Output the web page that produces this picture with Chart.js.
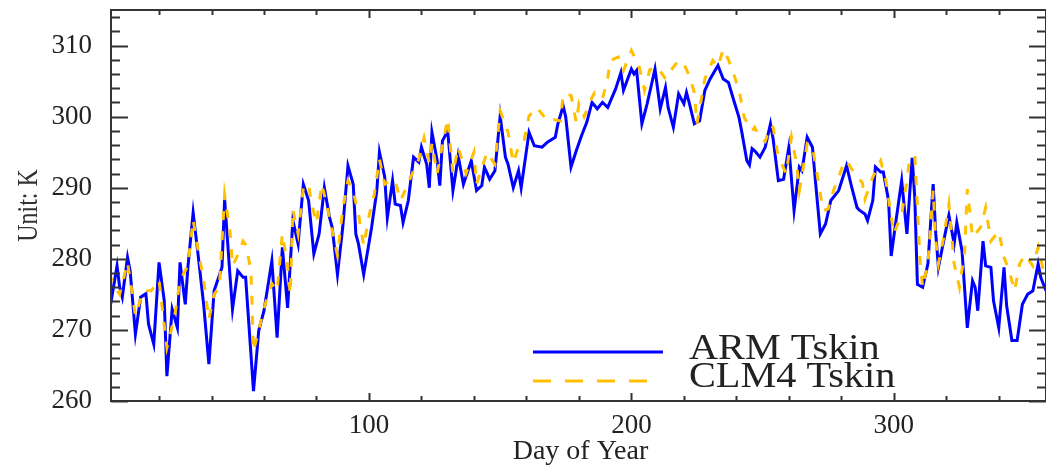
<!DOCTYPE html>
<html>
<head>
<meta charset="utf-8">
<script src="https://cdn.jsdelivr.net/npm/chart.js@4/dist/chart.umd.min.js"></script>
<style>
  html, body { margin: 0; padding: 0; background: #ffffff; }
  #wrap { width: 1046px; height: 466px; }
</style>
</head>
<body>
<div id="wrap"><canvas id="c" width="1046" height="466"></canvas></div>
<script>
// Daily skin temperature (K), observed (ARM) and simulated (CLM4)
const armDays = [1,4,5,6,8,9,11,13,15,16,18,20,22,23,25,27,28,30,31,33,35,37,39,41,44,45,47,48,50,52,53,56,58,60,63,65,67,69,71,73,75,77,79,81,83,85,86,88,90,92,94,95,96,98,101,103,104,106,107,109,110,112,113,115,117,119,120,122,123,124,126,127,128,130,132,133,134,136,139,141,143,144,146,148,150,152,153,155,157,158,161,163,166,168,171,172,174,175,177,179,181,183,185,187,189,191,194,196,197,200,201,202,204,206,209,211,213,214,216,218,220,221,222,224,226,228,230,233,235,237,239,241,242,244,245,246,247,249,251,253,254,256,258,260,262,264,265,267,269,270,272,274,276,279,282,284,286,287,289,290,292,293,295,296,298,299,301,303,305,307,308,309,311,313,315,316,317,319,321,323,324,326,328,330,331,332,334,335,337,338,340,342,343,345,347,349,351,353,355,356,358];
const armTskin = [272.4,279.0,276.0,274.6,280.2,278.3,269.4,274.6,275.1,270.8,268.0,279.5,274.1,263.5,272.9,270.3,279.5,273.6,278.8,286.5,280.2,273.6,265.2,275.5,278.8,288.4,277.8,272.9,278.3,277.4,277.4,261.4,269.9,272.7,279.7,268.9,281.6,273.1,285.4,282.1,290.5,288.2,280.7,283.5,290.0,285.8,284.4,277.8,284.4,293.1,290.5,283.5,282.1,277.8,284.4,289.6,295.0,291.5,285.8,291.0,287.7,287.5,285.1,288.2,294.3,293.6,295.7,293.3,290.0,297.8,293.8,290.3,296.6,298.0,289.6,291.9,294.5,290.5,293.8,289.6,290.3,292.9,291.2,292.4,300.1,294.3,293.3,290.0,292.4,290.0,297.8,295.9,295.7,296.4,297.1,299.0,301.5,299.9,292.9,295.2,297.3,299.2,302.0,301.1,302.0,301.3,303.9,306.2,303.7,306.7,306.0,306.5,299.0,301.8,306.7,301.1,304.1,301.3,298.5,303.2,301.8,303.4,302.0,299.0,299.4,303.7,305.3,307.2,305.3,304.8,302.3,299.9,298.0,293.8,293.2,295.5,295.2,294.3,295.7,299.0,296.9,291.0,291.2,295.7,286.8,292.9,292.4,297.1,295.7,291.5,283.5,284.9,288.2,289.6,293.1,290.0,287.2,286.8,286.3,285.4,288.2,292.9,292.2,292.2,288.2,280.4,285.8,291.0,283.5,294.2,288.6,276.4,276.0,279.3,290.5,283.5,278.8,282.5,286.1,282.1,285.1,281.1,270.3,276.9,276.0,272.7,282.5,279.0,278.8,274.1,270.3,278.8,273.4,268.5,268.5,273.6,275.0,275.5,279.3,277.4,275.5];

const clmDays = [1,3,5,8,11,14,17,20,23,26,28,31,33,35,37,39,41,43,45,47,48,50,52,53,55,56,58,60,62,63,65,67,69,70,71,73,75,77,78,80,82,84,86,88,90,92,94,96,98,100,102,104,106,108,110,112,114,117,119,121,123,124,126,128,130,132,134,137,140,141,145,148,150,153,155,157,159,161,164,168,170,173,174,177,179,180,182,185,186,189,191,192,195,197,200,203,205,207,210,213,215,218,220,222,224,225,228,231,233,235,237,239,241,243,246,247,249,251,253,254,256,259,261,263,264,267,269,271,273,275,277,279,281,282,285,288,289,292,295,297,300,303,305,306,308,309,310,311,313,315,316,317,319,321,323,325,327,328,329,330,333,335,337,340,342,344,346,348,350,353,355,357];
const clmTskin = [278,276,275,279.5,272,275.5,275.5,277,267.5,272,277,279,285.5,281,277,271.5,275,276,289,284,279,280.5,282.5,282,278.5,267,270,273,275.5,276.5,275.5,283.5,279,275,287,283.5,290,290.5,288,285,290.5,287.5,284,280.5,287,291,289.5,286.3,281.8,286,289,294,290.5,291,291,288.2,289.8,292.4,294,297,293.5,296.2,292,296,299.7,292,295.7,292,295,290.5,295,293.3,300.8,297.8,293.5,295.7,296.4,300.1,301.3,299.4,299.6,299.4,303.2,303,299.2,301.8,300,302.7,303.4,302.5,305.5,307.9,308.4,306.5,309.3,307,303.7,306.6,307,305.3,306.5,307.9,307.4,305.8,303.4,299,305.3,307.9,307,309.5,308,306,303.7,299.9,298,298.5,297,296.5,298.7,298.5,294.3,292,297.1,293.3,289.6,296.2,295.7,291.5,286.8,287,289.6,291.5,293.6,293.8,292,290.7,288.4,291.5,293.8,291,283.5,286.3,291,294,294.5,287.2,279.7,276,279.3,289.6,282.5,279.3,283,287.7,279.3,276,281,289.8,286.5,283,284.4,287.2,282.5,283.9,280.2,278.3,275.5,279.3,280.6,279,281.6,278.3];

// Axis ticks
const xTickLabels = [100, 200, 300];
const yTickLabels = [260, 270, 280, 290, 300, 310];
const xMinorTicks = [];
for (let d = 20; d <= 340; d += 20) xMinorTicks.push(d);
const yMinorTicks = [];
for (let k = 260; k <= 314; k += 2) yMinorTicks.push(k);

const seriesNames = ['ARM Tskin', 'CLM4 Tskin'];
const BLUE = '#0000ff';
const GOLD = '#ffc000';
const INK = '#222222';
const SERIF = "'Liberation Serif', 'DejaVu Serif', serif";

const toPoints = (xs, ys) => xs.map((d, i) => ({ x: d, y: ys[i] }));

// Box frame with inward ticks, axis titles and the in-plot key
const framePlugin = {
  id: 'frame',
  afterDraw(chart) {
    const { ctx, chartArea: a, scales: { x, y } } = chart;
    ctx.save();
    ctx.strokeStyle = '#333333';
    ctx.lineWidth = 2;
    ctx.strokeRect(a.left, a.top, a.right - a.left, a.bottom - a.top);

    ctx.beginPath();
    yMinorTicks.forEach(v => {
      const p = Math.round(y.getPixelForValue(v)) + 0.5;
      const len = yTickLabels.includes(v) ? 17 : 9;
      ctx.moveTo(a.left, p); ctx.lineTo(a.left + len, p);
      ctx.moveTo(a.right, p); ctx.lineTo(a.right - len, p);
    });
    xMinorTicks.forEach(v => {
      const p = Math.round(x.getPixelForValue(v)) + 0.5;
      const len = xTickLabels.includes(v) ? 8 : 5;
      ctx.moveTo(p, a.bottom); ctx.lineTo(p, a.bottom - len);
      ctx.moveTo(p, a.top); ctx.lineTo(p, a.top + len);
    });
    ctx.stroke();

    // axis titles
    ctx.fillStyle = INK;
    ctx.font = `28px ${SERIF}`;
    ctx.textAlign = 'center';
    ctx.textBaseline = 'alphabetic';
    ctx.fillText('Day of Year', (a.left + a.right) / 2 + 2, 459);

    ctx.save();
    ctx.translate(37, (a.top + a.bottom) / 2);
    ctx.rotate(-Math.PI / 2);
    ctx.scale(1, 1.25);
    ctx.font = `24px ${SERIF}`;
    ctx.fillStyle = '#333333';
    ctx.fillText('Unit: K', 0, 0);
    ctx.restore();

    // key
    ctx.lineWidth = 3;
    ctx.strokeStyle = BLUE;
    ctx.setLineDash([]);
    ctx.beginPath(); ctx.moveTo(533, 352); ctx.lineTo(663, 352); ctx.stroke();
    ctx.strokeStyle = GOLD;
    ctx.setLineDash([18, 14]);
    ctx.beginPath(); ctx.moveTo(533, 381); ctx.lineTo(651, 381); ctx.stroke();
    ctx.setLineDash([]);

    ctx.fillStyle = INK;
    ctx.font = `35px ${SERIF}`;
    ctx.textAlign = 'left';
    [[seriesNames[0], 359], [seriesNames[1], 387]].forEach(([t, by]) => {
      ctx.save();
      ctx.translate(689, by);
      ctx.scale(1.15, 1);
      ctx.fillText(t, 0, 0);
      ctx.restore();
    });
    ctx.restore();
  }
};

new Chart(document.getElementById('c'), {
  type: 'line',
  data: {
    datasets: [
      {
        label: seriesNames[0],
        data: toPoints(armDays, armTskin),
        borderColor: BLUE,
        borderWidth: 3,
        pointRadius: 0,
        tension: 0,
        order: 1
      },
      {
        label: seriesNames[1],
        data: toPoints(clmDays, clmTskin),
        borderColor: GOLD,
        borderWidth: 3,
        borderDash: [9, 11],
        pointRadius: 0,
        tension: 0,
        order: 0
      }
    ]
  },
  options: {
    responsive: false,
    animation: false,
    events: [],
    layout: { padding: { top: 10, right: 0, left: 0, bottom: 0 } },
    plugins: { legend: { display: false }, tooltip: { enabled: false } },
    scales: {
      x: {
        type: 'linear',
        min: 1.7,
        max: 358,
        grid: { display: false },
        border: { display: false },
        afterBuildTicks: s => { s.ticks = xTickLabels.map(v => ({ value: v })); },
        afterFit: s => { s.height = 65; s.paddingLeft = 0; s.paddingRight = 0; },
        ticks: {
          color: INK,
          font: { family: SERIF, size: 27 },
          padding: 1,
          maxRotation: 0,
          autoSkip: false
        }
      },
      y: {
        type: 'linear',
        min: 260,
        max: 315,
        grid: { display: false },
        border: { display: false },
        afterBuildTicks: s => { s.ticks = yTickLabels.map(v => ({ value: v })); },
        afterFit: s => { s.width = 111; s.paddingTop = 0; s.paddingBottom = 0; },
        ticks: {
          color: INK,
          font: { family: SERIF, size: 27 },
          padding: 11,
          autoSkip: false
        }
      }
    }
  },
  plugins: [framePlugin]
});
</script>
</body>
</html>
